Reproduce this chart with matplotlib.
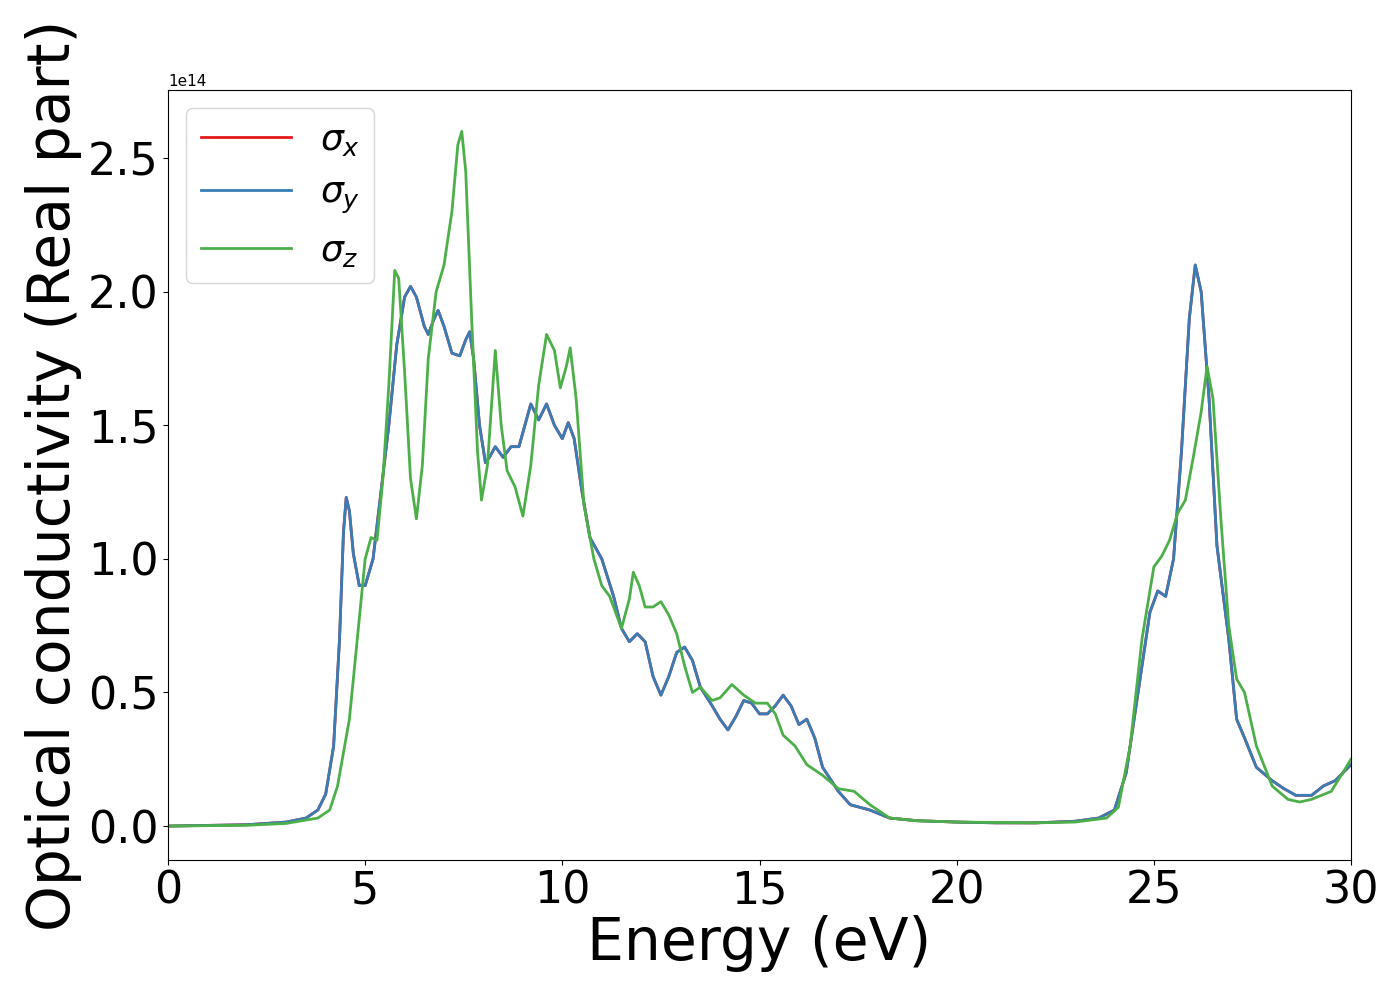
import matplotlib
matplotlib.use('Agg')
import matplotlib.pyplot as plt

# energy (eV) and real part of sigma (units of 1e14)
energy_xy = [0, 2, 3, 3.5, 3.8, 4.0, 4.2, 4.35, 4.45, 4.52, 4.6, 4.7, 4.85, 5.0, 5.2, 5.4, 5.6, 5.8, 6.0, 6.15,
             6.3, 6.5, 6.6, 6.75, 6.85, 7.0, 7.2, 7.4, 7.55, 7.65, 7.75, 7.9, 8.05, 8.15, 8.3, 8.5, 8.7, 8.9, 9.05,
             9.2, 9.4, 9.6, 9.8, 10.0, 10.15, 10.3, 10.5, 10.7, 11.0, 11.3, 11.5, 11.7, 11.9, 12.1, 12.3, 12.5,
             12.7, 12.9, 13.1, 13.3, 13.5, 13.8, 14.0, 14.2, 14.4, 14.6, 14.8, 15.0, 15.2, 15.4, 15.6, 15.8, 16.0,
             16.2, 16.4, 16.6, 17.0, 17.3, 17.8, 18.3, 19, 20, 21, 22, 23, 23.6, 24, 24.3, 24.6, 24.9, 25.1, 25.3,
             25.5, 25.7, 25.9, 26.05, 26.2, 26.4, 26.6, 26.9, 27.1, 27.3, 27.6, 28.0, 28.3, 28.6, 29.0, 29.3,
             29.6, 30]
sigma_y = [0, 0.005, 0.015, 0.03, 0.06, 0.12, 0.3, 0.7, 1.1, 1.23, 1.18, 1.02, 0.9, 0.9, 1.0, 1.25, 1.5, 1.8,
           1.98, 2.02, 1.98, 1.87, 1.84, 1.9, 1.93, 1.87, 1.77, 1.76, 1.82, 1.85, 1.75, 1.5, 1.36, 1.38, 1.42,
           1.38, 1.42, 1.42, 1.5, 1.58, 1.52, 1.58, 1.50, 1.45, 1.51, 1.45, 1.25, 1.08, 1.0, 0.86, 0.74, 0.69,
           0.72, 0.69, 0.56, 0.49, 0.56, 0.65, 0.67, 0.62, 0.52, 0.45, 0.40, 0.36, 0.41, 0.47, 0.46, 0.42, 0.42,
           0.45, 0.49, 0.45, 0.38, 0.40, 0.33, 0.22, 0.13, 0.08, 0.06, 0.03, 0.02, 0.015, 0.012, 0.012, 0.018,
           0.03, 0.06, 0.2, 0.5, 0.8, 0.88, 0.86, 1.0, 1.4, 1.9, 2.1, 2.0, 1.6, 1.05, 0.7, 0.4, 0.33, 0.22,
           0.17, 0.14, 0.115, 0.115, 0.15, 0.17, 0.23]
sigma_x = list(sigma_y)

energy_z = [0, 2, 3, 3.8, 4.1, 4.3, 4.6, 4.8, 5.0, 5.15, 5.3, 5.45, 5.6, 5.75, 5.85, 6.0, 6.15, 6.3, 6.45, 6.6,
            6.8, 7.0, 7.2, 7.35, 7.45, 7.55, 7.7, 7.85, 7.95, 8.1, 8.3, 8.45, 8.6, 8.8, 9.0, 9.2, 9.4, 9.6, 9.8,
            9.95, 10.1, 10.2, 10.35, 10.55, 10.8, 11.0, 11.2, 11.5, 11.7, 11.8, 11.95, 12.1, 12.3, 12.5, 12.7,
            12.9, 13.1, 13.3, 13.5, 13.8, 14.0, 14.3, 14.6, 14.9, 15.2, 15.4, 15.6, 15.9, 16.2, 16.6, 17.0, 17.4,
            17.8, 18.3, 19, 20, 22, 23, 23.8, 24.1, 24.4, 24.7, 25.0, 25.2, 25.4, 25.6, 25.8, 26.0, 26.2, 26.35,
            26.5, 26.7, 26.9, 27.1, 27.3, 27.6, 28.0, 28.4, 28.7, 29.0, 29.5, 30]
sigma_z = [0, 0.003, 0.01, 0.03, 0.06, 0.15, 0.4, 0.7, 1.0, 1.08, 1.07, 1.3, 1.65, 2.08, 2.05, 1.7, 1.3, 1.15,
           1.35, 1.75, 2.0, 2.1, 2.3, 2.55, 2.6, 2.45, 1.9, 1.4, 1.22, 1.35, 1.78, 1.5, 1.33, 1.27, 1.16, 1.35,
           1.65, 1.84, 1.78, 1.64, 1.72, 1.79, 1.6, 1.2, 1.0, 0.9, 0.86, 0.74, 0.85, 0.95, 0.9, 0.82, 0.82, 0.84,
           0.79, 0.72, 0.6, 0.5, 0.52, 0.47, 0.48, 0.53, 0.49, 0.46, 0.46, 0.42, 0.34, 0.30, 0.23, 0.19, 0.14,
           0.13, 0.08, 0.03, 0.02, 0.015, 0.012, 0.015, 0.03, 0.07, 0.3, 0.7, 0.97, 1.01, 1.07, 1.17, 1.22,
           1.38, 1.55, 1.72, 1.6, 1.15, 0.75, 0.55, 0.5, 0.3, 0.15, 0.1, 0.09, 0.1, 0.13, 0.25]

scale = 1e14

fig, ax = plt.subplots(figsize=(14, 10), dpi=100)
ax.plot(energy_xy, [v * scale for v in sigma_x], color='#e41a1c', lw=2, label=r'$\sigma_x$')
ax.plot(energy_xy, [v * scale for v in sigma_y], color='#377eb8', lw=2, label=r'$\sigma_y$')
ax.plot(energy_z, [v * scale for v in sigma_z], color='#4daf4a', lw=2, label=r'$\sigma_z$')

ax.set_xlim(0, 30)
ax.set_ylim(-0.127e14, 2.755e14)
ax.set_xlabel('Energy (eV)', fontsize=42, labelpad=2)
ax.set_ylabel('Optical conductivity (Real part)', fontsize=42, labelpad=4)
ax.tick_params(labelsize=32)
ax.yaxis.get_offset_text().set_fontsize(11)
ax.legend(fontsize=26, loc='upper left', handlelength=2.5)

fig.subplots_adjust(left=0.12, right=0.965, top=0.91, bottom=0.14)
fig.savefig('out.png')
